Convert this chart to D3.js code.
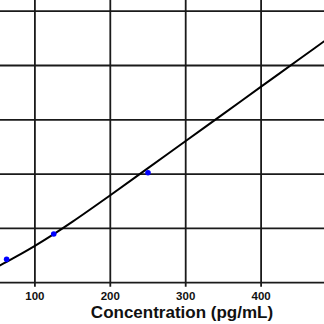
<!DOCTYPE html>
<html>
<head>
<meta charset="utf-8">
<script src="https://cdn.jsdelivr.net/npm/d3@7"></script>
<style>
    body { margin: 0; background: #fff; }
    svg { display: block; }
    .grid line { stroke: #1a1a1a; stroke-width: 1.8; }
    .curve { fill: none; stroke: #000; stroke-width: 2; }
    .dot { fill: #0000ff; }
    text { font-family: "Liberation Sans", Arial, sans-serif; font-weight: bold; fill: #111; }
</style>
</head>
<body>
<svg id="chart" width="324" height="324"></svg>
<script>

// standard points (concentration pg/mL, signal)
var stdConc = [62.5, 125, 250];
var stdSignal = [0.215, 0.448, 1.013];

// fitted curve
var fitConc = [40, 50, 62.5, 75, 100, 125, 150, 200, 250, 300, 350, 400, 450, 500];
var fitSignal = [0.108, 0.145, 0.191, 0.239, 0.339, 0.447, 0.562, 0.805, 1.055, 1.305, 1.555, 1.805, 2.055, 2.305];

var xTicks = [100, 200, 300, 400];
var yTicks = [0, 0.5, 1, 1.5, 2, 2.5];

var xTitle = "Concentration (pg/mL)";


class Calibration {

    constructor(shape) {
        this.shape = shape;
    }

    draw(sel) {
        var self = this;
        var shape = self.shape;

        var x = d3.scaleLinear()
            .domain([0, 500])
            .range([-40.5, 336.5]);

        var y = d3.scaleLinear()
            .domain([0, 2.5])
            .range([282.7, 11.2]);

        var grid = sel.append("g").attr("class", "grid");

        grid.selectAll(".h")
            .data(yTicks)
          .enter().append("line")
            .attr("class", "h")
            .attr("x1", 0)
            .attr("x2", shape.x)
            .attr("y1", d => y(d))
            .attr("y2", d => y(d));

        grid.selectAll(".v")
            .data(xTicks)
          .enter().append("line")
            .attr("class", "v")
            .attr("x1", d => x(d))
            .attr("x2", d => x(d))
            .attr("y1", 0)
            .attr("y2", y(0) + 4);

        var fit = fitConc.map((c, i) => ({ c: c, s: fitSignal[i] }));

        var line = d3.line()
            .curve(d3.curveCatmullRom)
            .x(d => x(d.c))
            .y(d => y(d.s));

        sel.append("path")
            .datum(fit)
            .attr("class", "curve")
            .attr("d", line);

        sel.selectAll(".dot")
            .data(stdConc.map((c, i) => ({ c: c, s: stdSignal[i] })))
          .enter().append("circle")
            .attr("class", "dot")
            .attr("cx", d => x(d.c))
            .attr("cy", d => y(d.s))
            .attr("r", 2.8);

        sel.selectAll(".tick")
            .data(xTicks)
          .enter().append("text")
            .attr("class", "tick")
            .attr("x", d => x(d))
            .attr("y", 300)
            .style("text-anchor", "middle")
            .style("font-size", "11.5px")
            .text(d => d);

        sel.append("text")
            .attr("x", 182)
            .attr("y", 318)
            .style("text-anchor", "middle")
            .style("font-size", "17px")
            .text(xTitle);

        return self;
    }

}

new Calibration({ x: 324, y: 324 }).draw(d3.select("#chart"));

</script>
</body>
</html>
